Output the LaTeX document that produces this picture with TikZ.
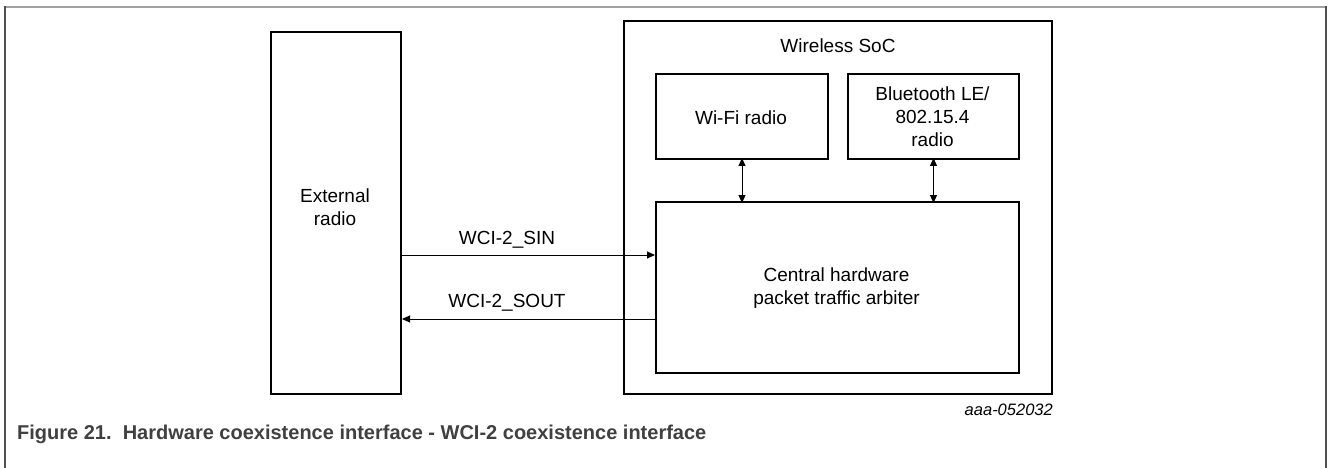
\documentclass[tikz,border=0pt]{standalone}
\usepackage{fontspec}
\setmainfont{Liberation Sans}
\usetikzlibrary{arrows.meta}
\definecolor{capgray}{HTML}{404040}
\definecolor{framegray}{HTML}{A0A0A0}
\definecolor{sidegray}{HTML}{505050}
\begin{document}
\begin{tikzpicture}[x=1pt,y=-1pt,
  blk/.style={draw=black,line width=2pt,rectangle,inner sep=0pt,anchor=north west},
  lbl/.style={inner sep=0pt,font=\fontsize{19}{23}\selectfont,align=center},
  conn/.style={line width=1pt,-{Triangle[length=8pt,width=7pt]}},
  biconn/.style={line width=1pt,{Triangle[length=8pt,width=7pt]}-{Triangle[length=8pt,width=7pt]}}]
\useasboundingbox (0,0) rectangle (1328,468);
\fill[white] (0,0) rectangle (1328,468);
% frame
\draw[framegray,line width=2pt] (4.5,7) -- (1327,7);
\draw[sidegray,line width=1.5pt] (5,6) -- (5,468);
\draw[sidegray,line width=1.5pt] (1326,6) -- (1326,468);
% boxes
\node[blk,minimum width=130pt,minimum height=362pt] (ext) at (270,31) {};
\node[blk,minimum width=428pt,minimum height=373pt] (soc) at (623,20) {};
\node[blk,minimum width=172pt,minimum height=85pt] (wifi) at (655,73) {};
\node[blk,minimum width=171pt,minimum height=85pt] (bt) at (847,73) {};
\node[blk,minimum width=363pt,minimum height=171pt] (cen) at (655,201) {};
% texts
\node[lbl] (extt) at (335,207) {External\\radio};
\node[lbl] (soct) at (838,46) {Wireless SoC};
\node[lbl] (wifit) at (741,118) {Wi-Fi radio};
\node[lbl] (btt) at (932.5,117) {Bluetooth LE/\\802.15.4\\radio};
\node[lbl] (cent) at (836.5,288) {Central hardware\\packet traffic arbiter};
% connectors
\coordinate (sinY) at (0,255);
\coordinate (soutY) at (0,319);
\draw[conn] (ext.east |- sinY) -- (cen.west |- sinY);
\draw[conn] (cen.west |- soutY) -- (ext.east |- soutY);
\node[lbl] (sinl) at (507,240) {WCI-2\_SIN};
\node[lbl] (soutl) at (507,303) {WCI-2\_SOUT};
\draw[biconn] ([yshift=2pt]wifi.south) -- ([yshift=-2pt]wifi.south |- cen.north);
\draw[biconn] ([yshift=2pt]bt.south) -- ([yshift=-2pt]bt.south |- cen.north);
% labels
\node[inner sep=0pt,anchor=east,font=\fontsize{16.5}{20}\selectfont\itshape] (code) at (1053,410) {aaa-052032};
\node[inner sep=0pt,anchor=west,text=capgray,font=\fontsize{20}{24}\selectfont\bfseries] (cap) at (17,434) {Figure 21.\ \ Hardware coexistence interface - WCI-2 coexistence interface};
\end{tikzpicture}
\end{document}
